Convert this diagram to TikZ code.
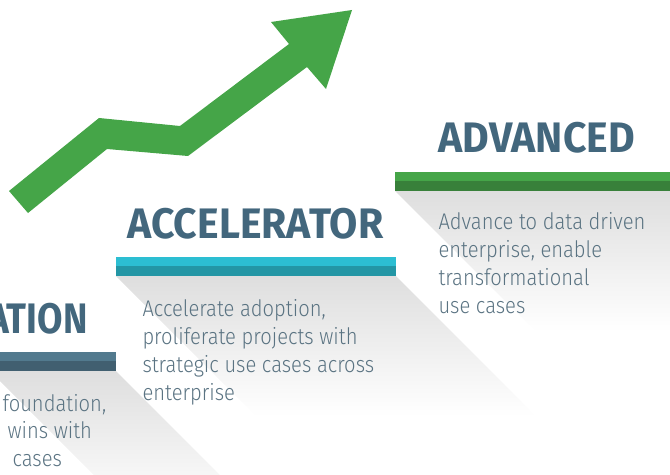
\documentclass[tikz,border=0pt]{standalone}
\usepackage{fontspec}
\setmainfont{Fira Sans}
\newfontfamily\headfont[FakeStretch=0.96]{Fira Sans}
\newfontfamily\bodyfont[FakeStretch=0.89]{Fira Sans Light}
\usetikzlibrary{fadings}

\definecolor{arrowgreen}{RGB}{69,165,72}
\definecolor{greenlight}{RGB}{69,165,72}
\definecolor{greendark}{RGB}{56,128,58}
\definecolor{cyanlight}{RGB}{44,190,210}
\definecolor{cyandark}{RGB}{35,150,165}
\definecolor{slatelight}{RGB}{82,122,142}
\definecolor{slatedark}{RGB}{65,95,112}
\definecolor{headblue}{RGB}{67,103,125}
\definecolor{bodyblue}{RGB}{90,115,130}

\tikzfading[name=shadowfade, top color=transparent!0, bottom color=transparent!100]

\tikzset{every picture/.style={line width=0.75pt},
  heading/.style={inner sep=0pt, text=headblue, font=\headfont\bfseries\fontsize{32}{36}\selectfont},
  bodytext/.style={inner sep=0pt, text=bodyblue, align=left, font=\bodyfont\fontsize{17}{21}\selectfont},
  longshadow/.style={fill=black, fill opacity=0.13, path fading=shadowfade}}

\begin{document}
\begin{tikzpicture}[x=0.75pt,y=0.75pt,yscale=-1,xscale=1]
\useasboundingbox (0,0) rectangle (670,474);
\clip (0,0) rectangle (670,474);

%Shadows
\fill [longshadow] (395,191) -- (670,191) -- (810,331) -- (535,331) -- cycle ;
\fill [longshadow] (116,276) -- (396,276) -- (536,416) -- (256,416) -- cycle ;
\fill [longshadow] (-10,371) -- (116,371) -- (256,511) -- (130,511) -- cycle ;

%Bars
\fill [greenlight] (395,172) rectangle (670,181) ;
\fill [greendark] (395,181) rectangle (670,191) ;
\fill [cyanlight] (116,257) rectangle (396,266) ;
\fill [cyandark] (116,266) rectangle (396,276) ;
\fill [slatelight] (0,352) rectangle (116,361) ;
\fill [slatedark] (0,361) rectangle (116,371) ;

%Arrow
\fill [arrowgreen] (9,191) -- (99,118) -- (180,126) -- (289,44) -- (271,22) -- (352,10) -- (326,89) -- (307,67) -- (188,156) -- (107,149) -- (28,213) -- cycle ;

% Text Node
\draw (438,152) node [heading, anchor=base west] (advhead) {ADVANCED};
% Text Node
\draw (438,212) node [bodytext, anchor=north west] (advtext) {Advance to data driven\\enterprise, enable\\transformational\\use cases};
% Text Node
\draw (127,238) node [heading, anchor=base west] (acchead) {ACCELERATOR};
% Text Node
\draw (142,299) node [bodytext, anchor=north west] (acctext) {Accelerate adoption,\\proliferate projects with\\strategic use cases across\\enterprise};
% Text Node
\draw (88,333) node [heading, anchor=base east, xscale=0.9] (fndhead) {ATION};
% Text Node
\draw (2,411) node [bodytext, anchor=base west] (fndone) {foundation,};
\draw (7,438) node [bodytext, anchor=base west] (fndtwo) {wins with};
\draw (12,466) node [bodytext, anchor=base west] (fndthree) {cases};

\end{tikzpicture}
\end{document}
